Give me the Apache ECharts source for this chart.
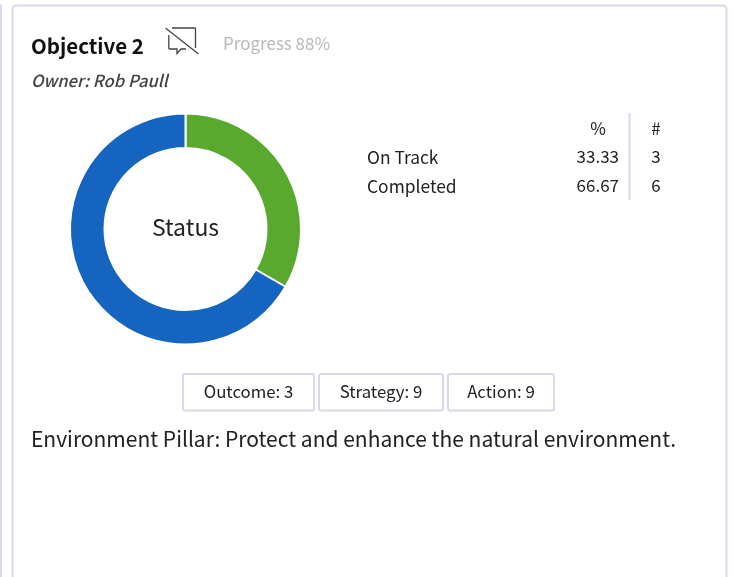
<!DOCTYPE html>
<html><head><meta charset="utf-8">
<style>html,body{margin:0;padding:0;background:#fff}#c{width:734px;height:577px}</style>
<script src="https://cdn.jsdelivr.net/npm/echarts@6/dist/echarts.min.js"></script>
</head><body><div id="c"></div>
<script>
const statusNames = ['On Track', 'Completed'];
const statusCounts = [3, 6];
const statusPercents = ['33.33', '66.67'];
const statusColors = ['#58a92e', '#1565c0'];
const tableHeaders = ['%', '#'];
const badges = ['Outcome: 3', 'Strategy: 9', 'Action: 9'];
const titleText = 'Objective 2';
const progressText = 'Progress 88%';
const ownerText = 'Owner: Rob Paull';
const centerText = 'Status';
const descriptionText = 'Environment Pillar: Protect and enhance the natural environment.';

const FONT = '"Noto Sans CJK SC","Noto Sans",sans-serif';
const BORDER = '#d6d9ea';
const txt = (x, y, text, o = {}, z = 1) => ({
  type: 'text', x, y, silent: true, z,
  style: Object.assign({ text, fontFamily: FONT, fontSize: 18, fill: '#222', verticalAlign: 'middle', align: 'left' }, o)
});
const g = [];
g.push({ type: 'rect', z: 0, shape: { x: 12.5, y: 5.5, width: 714, height: 640, r: 4 }, style: { fill: '#fff', stroke: BORDER, lineWidth: 2 }, silent: true });
g.push({ type: 'rect', z: 0, shape: { x: -20, y: 5.5, width: 21, height: 640 }, style: { fill: '#fff', stroke: BORDER, lineWidth: 2 }, silent: true });
g.push(txt(31, 46.5, titleText, { fontWeight: 'bold', fontSize: 20.5, fill: '#111' }));
g.push(txt(223, 44, progressText, { fontSize: 17, fill: '#b9b9b9' }));
g.push(txt(31, 81, ownerText, { fontStyle: 'italic', fontWeight: 500, fontSize: 16.6, fill: '#444' }));
// icon: crossed-out speech bubble
const iconStyle = { fill: 'none', stroke: '#444', lineWidth: 1.3 };
g.push({ type: 'polyline', silent: true, z: 1, shape: { points: [[172, 28], [195, 28], [195.5, 28.5], [195.5, 48]] }, style: iconStyle });
g.push({ type: 'polyline', silent: true, z: 1, shape: { points: [[186, 49], [181, 49], [177, 53.5], [177, 49], [169.5, 49], [168.8, 48.3], [168.8, 35]] }, style: iconStyle });
g.push({ type: 'line', silent: true, z: 1, shape: { x1: 165.5, y1: 28, x2: 198.5, y2: 54 }, style: iconStyle });
// table
const rowY = [157, 186], colPct = 619, colNum = 656;
g.push(txt(598, 129, tableHeaders[0], { align: 'center', fontSize: 17 }));
g.push(txt(colNum, 129, tableHeaders[1], { align: 'center', fontSize: 17 }));
statusNames.forEach((n, i) => {
  g.push(txt(367, rowY[i], n, { fontSize: 17.4 }));
  g.push(txt(colPct, rowY[i], statusPercents[i], { align: 'right', fontSize: 17 }));
  g.push(txt(colNum, rowY[i], String(statusCounts[i]), { align: 'center', fontSize: 17 }));
});
g.push({ type: 'line', silent: true, z: 1, shape: { x1: 629.5, y1: 113, x2: 629.5, y2: 200 }, style: { stroke: BORDER, lineWidth: 2 } });
// badges
const bx = [[183, 131], [319, 124], [448, 106]];
badges.forEach((b, i) => {
  g.push({ type: 'rect', silent: true, z: 1, shape: { x: bx[i][0], y: 374, width: bx[i][1], height: 36.5, r: 2 }, style: { fill: '#fff', stroke: BORDER, lineWidth: 2 } });
  g.push(txt(bx[i][0] + bx[i][1] / 2, 392, b, { align: 'center', fontSize: 16.8 }, 2));
});
g.push(txt(31, 439, descriptionText, { fontSize: 21 }));
g.push(txt(185.5, 227, centerText, { align: 'center', fontSize: 23 }, 6));

const chart = echarts.init(document.getElementById('c'), null, { renderer: 'canvas' });
chart.setOption({
  animation: false,
  graphic: { elements: g },
  series: [{
    type: 'pie', center: [185.5, 229], radius: [81, 115.5], startAngle: 90, clockwise: true,
    label: { show: false }, labelLine: { show: false }, silent: true, z: 5,
    itemStyle: { borderColor: '#fff', borderWidth: 2 },
    data: statusNames.map((name, i) => ({ name, value: statusCounts[i], itemStyle: { color: statusColors[i] } }))
  }]
});
</script></body></html>
